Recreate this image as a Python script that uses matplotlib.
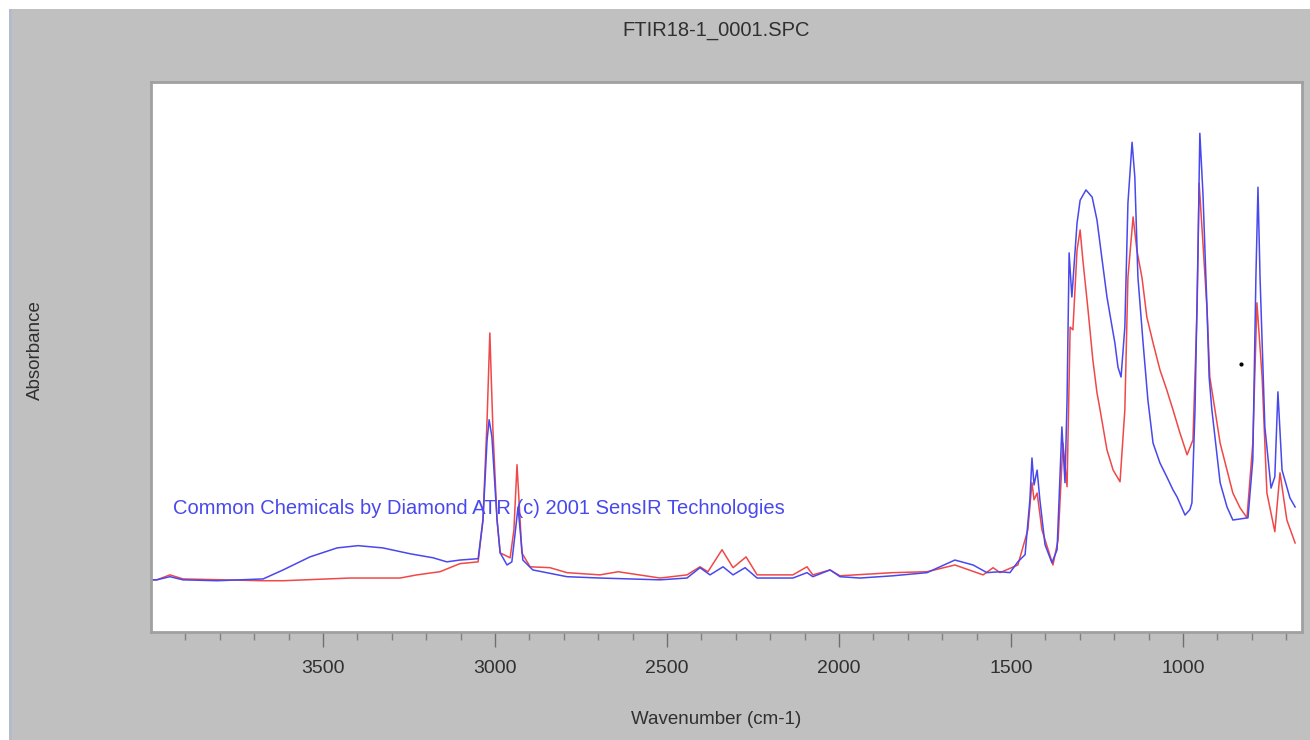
import matplotlib
matplotlib.use("Agg")
import matplotlib.pyplot as plt
from matplotlib.patches import Rectangle

# spectrum values (wavenumber cm-1, absorbance a.u.)
blue_wn = [3997, 3983, 3945, 3907, 3808, 3674, 3616, 3538, 3459, 3398, 3326, 3247, 3180, 3140,
           3102, 3049, 3035, 3023, 3017, 3009, 2994, 2985, 2965, 2951, 2942, 2933, 2927, 2919,
           2890, 2791, 2695, 2520, 2442, 2404, 2375, 2337, 2308, 2273, 2238, 2134, 2093, 2076,
           2026, 1997, 1939, 1843, 1744, 1663, 1610, 1570, 1532, 1503, 1480, 1459, 1445, 1439,
           1433, 1424, 1416, 1401, 1381, 1366, 1358, 1352, 1343, 1337, 1331, 1323, 1308, 1299,
           1282, 1264, 1250, 1235, 1221, 1206, 1198, 1189, 1180, 1169, 1160, 1148, 1140, 1131,
           1116, 1102, 1087, 1067, 1047, 1029, 1017, 994, 980, 974, 965, 956, 951, 942, 930,
           924, 916, 892, 872, 855, 811, 797, 788, 782, 776, 762, 744, 733, 724, 712, 689, 674]
blue_abs = [0.000, 0.000, 0.007, 0.000, -0.002, 0.002, 0.022, 0.051, 0.071, 0.076, 0.071, 0.058,
            0.049, 0.040, 0.044, 0.047, 0.133, 0.311, 0.356, 0.318, 0.133, 0.060, 0.033, 0.040,
            0.100, 0.162, 0.111, 0.044, 0.022, 0.007, 0.004, 0.000, 0.004, 0.027, 0.011, 0.029,
            0.011, 0.027, 0.004, 0.004, 0.016, 0.007, 0.022, 0.007, 0.004, 0.009, 0.016, 0.044,
            0.033, 0.016, 0.018, 0.016, 0.040, 0.056, 0.178, 0.271, 0.211, 0.244, 0.178, 0.078,
            0.038, 0.067, 0.222, 0.340, 0.216, 0.400, 0.727, 0.629, 0.793, 0.844, 0.867, 0.851,
            0.800, 0.711, 0.629, 0.562, 0.527, 0.473, 0.451, 0.562, 0.838, 0.973, 0.896, 0.673,
            0.527, 0.400, 0.304, 0.260, 0.229, 0.200, 0.184, 0.144, 0.156, 0.171, 0.378, 0.749,
            0.993, 0.860, 0.600, 0.451, 0.378, 0.216, 0.162, 0.133, 0.138, 0.267, 0.673, 0.873,
            0.673, 0.340, 0.204, 0.229, 0.418, 0.244, 0.182, 0.162]

red_wn = [3997, 3983, 3945, 3907, 3674, 3616, 3422, 3276, 3227, 3180, 3160, 3102, 3049, 3035,
          3023, 3015, 3006, 2994, 2985, 2956, 2945, 2936, 2927, 2922, 2898, 2840, 2791, 2695,
          2642, 2520, 2442, 2404, 2381, 2340, 2308, 2270, 2238, 2134, 2093, 2076, 2026, 1997,
          1843, 1744, 1663, 1581, 1552, 1532, 1480, 1451, 1439, 1433, 1424, 1410, 1378, 1363,
          1349, 1337, 1328, 1320, 1308, 1299, 1291, 1276, 1262, 1250, 1241, 1221, 1203, 1183,
          1169, 1160, 1145, 1134, 1119, 1105, 1087, 1067, 1047, 1029, 1009, 988, 971, 959, 953,
          942, 930, 922, 907, 892, 872, 855, 834, 814, 797, 785, 770, 756, 733, 718, 698, 674]
red_abs = [0.000, 0.000, 0.011, 0.002, -0.002, -0.002, 0.004, 0.004, 0.011, 0.016, 0.018, 0.036,
           0.040, 0.133, 0.356, 0.549, 0.333, 0.133, 0.060, 0.049, 0.111, 0.256, 0.133, 0.060,
           0.029, 0.027, 0.016, 0.011, 0.018, 0.004, 0.011, 0.029, 0.018, 0.067, 0.027, 0.051,
           0.011, 0.011, 0.029, 0.011, 0.022, 0.009, 0.016, 0.018, 0.033, 0.011, 0.027, 0.016,
           0.033, 0.111, 0.216, 0.178, 0.193, 0.111, 0.033, 0.089, 0.304, 0.207, 0.562, 0.556,
           0.733, 0.778, 0.711, 0.600, 0.489, 0.416, 0.378, 0.289, 0.244, 0.218, 0.378, 0.673,
           0.807, 0.733, 0.671, 0.584, 0.527, 0.467, 0.422, 0.378, 0.327, 0.278, 0.311, 0.600,
           0.882, 0.749, 0.600, 0.451, 0.378, 0.304, 0.244, 0.193, 0.160, 0.138, 0.304, 0.616,
           0.451, 0.193, 0.107, 0.238, 0.133, 0.082]

# stray cursor dot in the plot
dot_wn = [831]
dot_abs = [0.48]

major_ticks = [3500, 3000, 2500, 2000, 1500, 1000]
minor_ticks = list(range(3900, 650, -100))

plt.rcParams["font.family"] = ["Liberation Sans", "DejaVu Sans"]

W, H = 1310, 740
fig = plt.figure(figsize=(W / 100, H / 100), dpi=100, facecolor="white")
# gray window panel with a white margin top/left
fig.patches.append(Rectangle((9 / W, 0), 1, 1 - 9 / H, transform=fig.transFigure,
                             facecolor="#c0c0c0", edgecolor="none", zorder=-10))
fig.patches.append(Rectangle((9 / W, 0), 3 / W, 1 - 9 / H, transform=fig.transFigure,
                             facecolor="#b4bccc", edgecolor="none", zorder=-9))

ax = fig.add_axes([151 / W, 108 / H, 1151 / W, 550 / H])
ax.set_facecolor("white")

ax.plot(red_wn, red_abs, color="#f04848", lw=1.1)
ax.plot(blue_wn, blue_abs, color="#4848ee", lw=1.1)
ax.plot(dot_wn, dot_abs, "o", color="black", ms=2)

ax.text(3936, 0.158, "Common Chemicals by Diamond ATR (c) 2001 SensIR Technologies",
        color="#4848ee", fontsize=14.5, ha="left", va="center")

ax.set_xlim(4000, 654)
ax.set_ylim(-0.116, 1.107)
ax.set_xticks(major_ticks)
ax.set_xticks(minor_ticks, minor=True)
ax.set_yticks([])
ax.tick_params(axis="x", which="major", direction="out", length=11, width=1, color="#707070",
               pad=9, labelsize=14, labelcolor="#303030")
ax.tick_params(axis="x", which="minor", direction="out", length=6, width=1, color="#808080")
for s in ax.spines.values():
    s.set_color("#a0a0a0")
    s.set_linewidth(2)

fig.text(716 / W, 1 - 30 / H, "FTIR18-1_0001.SPC", fontsize=14.5,
         color="#303030", ha="center", va="center")
fig.text(716 / W, 1 - 720 / H, "Wavenumber (cm-1)", fontsize=13.5, color="#303030",
         ha="center", va="center")
fig.text(35 / W, 1 - 350 / H, "Absorbance", fontsize=13.5, color="#303030",
         ha="center", va="center", rotation=90)

fig.savefig("out.png", dpi=100, facecolor=fig.get_facecolor())
